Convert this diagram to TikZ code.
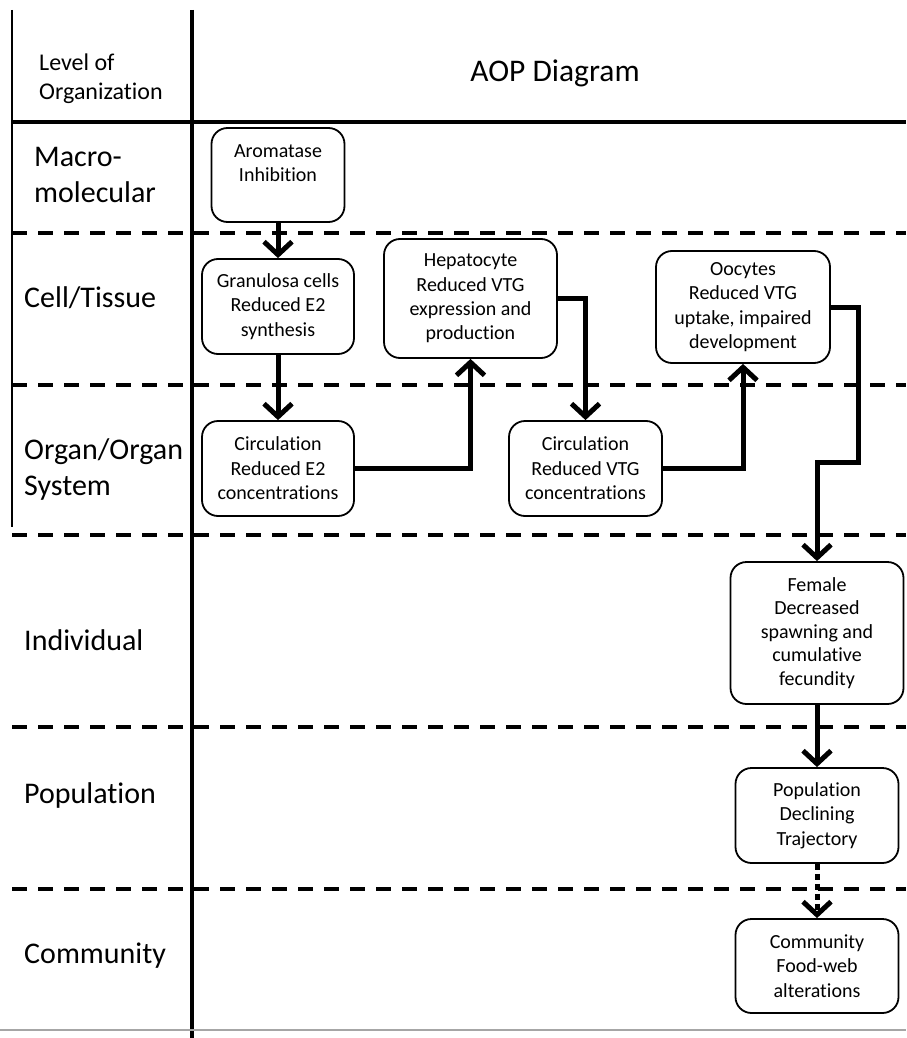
\documentclass[tikz,border=0pt]{standalone}
\usepackage{fontspec}
\setmainfont{Carlito}[Ligatures={NoCommon}]
\usetikzlibrary{arrows.meta}

\tikzset{
  event/.style={draw, line width=1.8pt, rounded corners=16pt, inner sep=0pt,
    align=center, font=\fontsize{20}{24.4}\selectfont},
  conn/.style={line width=5pt, -{Straight Barb[length=13pt,width=28pt]}},
  dotconn/.style={conn, dash pattern=on 6pt off 4pt},
  levelsep/.style={line width=4pt, dash pattern=on 15pt off 11pt},
  levellabel/.style={anchor=base west, inner sep=0pt, align=left,
    font=\fontsize{30}{36}\selectfont},
}

\begin{document}
\begin{tikzpicture}[x=1pt, y=-1pt]
\useasboundingbox (0,0) rectangle (906,1038);

% level separators
\foreach \yy in {233,385,535,727,889}
  \draw[levelsep] (12,\yy) -- (906,\yy);

% table frame
\draw[line width=1.2pt] (12,10) -- (12,527);
\draw[line width=4.5pt] (12,122) -- (906,122);
\draw[line width=4.8pt] (192,10) -- (192,1038);
\draw[line width=1.5pt, black!35] (0,1030) -- (906,1030);

% header (multi-line nodes are anchored on their last baseline)
\node[anchor=base west, inner sep=0pt, align=left,
      font=\fontsize{24}{29}\selectfont] (hdrlevel) at (39,100)
  {Level of\\Organization};
\node[anchor=base, inner sep=0pt, font=\fontsize{31.5}{36}\selectfont]
  (hdraop) at (555,82) {AOP Diagram};

% level labels
\node[levellabel] (lmacro) at (34,202) {Macro-\\molecular};
\node[levellabel] (lcell)  at (24,307) {Cell/Tissue};
\node[levellabel] (lorgan) at (24,495) {Organ/Organ\\System};
\node[levellabel] (lind)   at (24,650) {Individual};
\node[levellabel] (lpop)   at (24,803) {Population};
\node[levellabel] (lcomm)  at (24,963) {Community};

% key events
\node[event, minimum width=133pt, minimum height=94pt] (arom) at (278,175)
  {Aromatase\\Inhibition\\\mbox{}};
\node[event, minimum width=152pt, minimum height=95pt] (gran) at (278,306.5)
  {Granulosa cells\\Reduced E2\\synthesis};
\node[event, minimum width=173pt, minimum height=119pt] (hep) at (470.5,298.5)
  {Hepatocyte\\Reduced VTG\\expression and\\production};
\node[event, minimum width=174pt, minimum height=112pt] (ooc) at (743,307)
  {Oocytes\\Reduced VTG\\uptake, impaired\\development};
\node[event, minimum width=152pt, minimum height=95pt] (circe) at (278,468.5)
  {Circulation\\Reduced E2\\concentrations};
\node[event, minimum width=153pt, minimum height=95pt] (circv) at (585.5,468.5)
  {Circulation\\Reduced VTG\\concentrations};
\node[event, minimum width=173pt, minimum height=142pt,
      font=\fontsize{20}{23.4}\selectfont] (fem) at (817,633)
  {Female\\Decreased\\spawning and\\cumulative\\fecundity};
\node[event, minimum width=163pt, minimum height=95pt] (pop) at (817,815.5)
  {Population\\Declining\\Trajectory};
\node[event, minimum width=163pt, minimum height=94pt] (comm) at (817,966)
  {Community\\Food-web\\alterations};

% pathway
\coordinate (bend) at (858,462);
\draw[conn] (arom.south) -- (gran.north);
\draw[conn] (gran.south) -- (circe.north);
\draw[conn] (circe.east) -| (hep.south);
\draw[conn] (hep.east) -| (circv.north);
\draw[conn] (circv.east) -| (ooc.south);
\draw[conn] (ooc.east) -| (bend) -| (fem.north);
\draw[conn] (fem.south) -- (pop.north);
\draw[dotconn] (pop.south) -- (comm.north);
\end{tikzpicture}
\end{document}
